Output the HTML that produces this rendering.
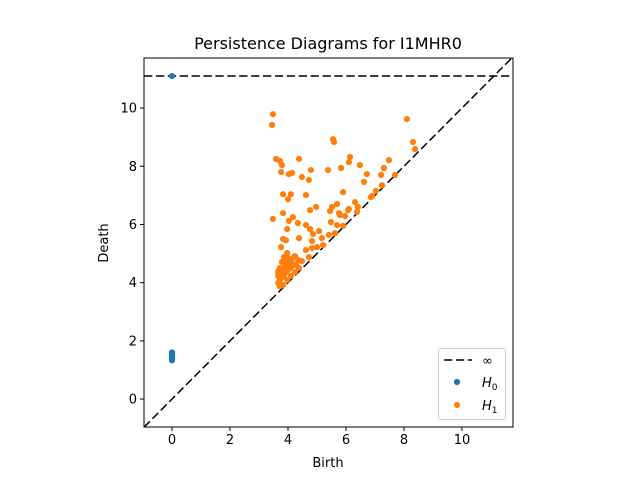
<!DOCTYPE html>
<html><head><meta charset="utf-8"><style>
body{margin:0;background:#fff;font-family:"Liberation Sans","DejaVu Sans",sans-serif;}
svg text{font-family:"DejaVu Sans","Liberation Sans",sans-serif;}
</style></head><body>
<svg id="chart" width="640" height="480" viewBox="0 0 640 480">
<rect width="640" height="480" fill="#fff"/>
<text x="328" y="49" font-size="16" text-anchor="middle">Persistence Diagrams for I1MHR0</text>
<g id="plot"></g>
<text x="328" y="467" font-size="13" text-anchor="middle">Birth</text>
<text x="108" y="243" font-size="13" text-anchor="middle" transform="rotate(-90 108 243)">Death</text>
<g>
<rect x="438.5" y="348.5" width="67" height="71" rx="3" fill="#fff" fill-opacity="0.8" stroke="#ccc"/>
<line x1="444" y1="360" x2="472" y2="360" stroke="#000" stroke-width="1.5" stroke-dasharray="8.3,3.6"/>
<text x="482" y="365" font-size="13">∞</text>
<circle cx="457" cy="382" r="3.1" fill="#1f77b4"/>
<text x="482" y="387" font-size="13" font-style="italic">H<tspan font-size="9" dy="3" font-style="normal">0</tspan></text>
<circle cx="457" cy="405" r="3.1" fill="#ff7f0e"/>
<text x="482" y="410" font-size="13" font-style="italic">H<tspan font-size="9" dy="3" font-style="normal">1</tspan></text>
</g>
</svg>
<script>
const xTicks=[0,2,4,6,8,10];
const yTicks=[0,2,4,6,8,10];
const infDeath=11.1;
const h0Birth=[0,0,0,0,0,0,0,0,0];
const h0Death=[1.33,1.38,1.42,1.46,1.5,1.53,1.56,1.6,11.1];
const h1Birth=[3.48,3.45,8.10,5.55,5.59,8.31,8.38,3.59,3.72,3.79,3.76,4.03,4.14,4.38,4.79,4.48,4.72,5.38,5.83,6.14,6.10,6.48,6.72,6.62,7.48,7.31,7.21,7.69,7.24,7.03,6.86,6.90,5.90,3.83,4.10,4.00,4.62,4.97,4.76,5.69,5.52,5.45,5.76,5.97,6.10,6.31,6.41,6.38,5.79,6.07,3.83,3.48,4.17,4.03,4.34,4.62,5.48,4.76,5.07,5.69,5.90,5.62,5.41,3.97,4.86,4.83,5.17,3.83,3.93,4.38,3.76,5.21,5.00,4.62,4.83,3.97,4.24,4.48,4.72,3.72,3.66,3.66,3.72,3.79,3.86,3.93,4.00,4.07,4.14,3.76,3.83,3.90,3.69,3.79,3.93,4.03,4.17,4.28,4.34,4.00,3.86,4.10,3.97,3.83,3.72,4.24,4.38,3.66,4.10,4.21];
const h1Death=[9.79,9.42,9.62,8.93,8.83,8.83,8.59,8.25,8.18,8.04,7.80,7.73,7.77,8.25,7.87,7.63,7.53,7.87,7.94,8.32,8.14,8.04,7.73,7.46,8.21,7.94,7.70,7.70,7.35,7.15,6.94,6.98,7.11,7.04,7.04,6.87,7.01,6.60,6.49,6.70,6.60,6.46,6.39,6.29,6.53,6.77,6.60,6.43,6.32,6.49,6.39,6.19,6.25,6.12,6.05,5.98,6.08,5.84,5.77,5.98,5.95,5.70,5.64,5.84,5.67,5.43,5.53,5.50,5.46,5.53,5.22,5.29,5.22,5.12,5.19,5.02,4.91,4.74,4.88,4.50,4.36,3.99,4.09,4.19,4.26,4.36,4.43,4.50,4.57,4.26,4.43,4.57,4.43,4.71,4.71,4.71,4.64,4.60,4.78,4.85,4.88,4.23,4.09,3.92,3.88,4.36,4.50,4.23,4.78,4.88];
const L=144,R=513,T=58,B=427;
const xMin=-0.966,xMax=11.76,yMin=-0.96,yMax=11.72;
function sx(v){return L+(v-xMin)/(xMax-xMin)*(R-L);}
function sy(v){return B-(v-yMin)/(yMax-yMin)*(B-T);}
const NS="http://www.w3.org/2000/svg";
const g=document.getElementById('plot');
function el(t,a,p){const e=document.createElementNS(NS,t);for(const k in a)e.setAttribute(k,a[k]);(p||g).appendChild(e);return e;}
const diag=el('line',{x1:sx(xMin),y1:sy(xMin),x2:sx(Math.min(xMax,yMax)),y2:sy(Math.min(xMax,yMax)),stroke:'#000','stroke-width':1.5,'stroke-dasharray':'8.3,3.6'});


const inf=el('line',{x1:L,y1:sy(infDeath),x2:R,y2:sy(infDeath),stroke:'#000','stroke-width':1.5,'stroke-dasharray':'8.3,3.6'});


for(let i=0;i<h0Birth.length;i++){
 const c=el('circle',{cx:sx(h0Birth[i]),cy:sy(h0Death[i]),r:3.1,fill:'#1f77b4'});
 
 
}
for(let i=0;i<h1Birth.length;i++){
 const c=el('circle',{cx:sx(h1Birth[i]),cy:sy(h1Death[i]),r:3.1,fill:'#ff7f0e'});
 
 
}
const frame=el('rect',{x:L,y:T,width:R-L,height:B-T,fill:'none',stroke:'#000','stroke-width':1});


xTicks.forEach(v=>{
 const x=sx(v);
 const tk=el('line',{x1:x,y1:B,x2:x,y2:B+4,stroke:'#000'});
 
 
 const t=el('text',{x:x,y:B+17,'font-size':13,'text-anchor':'middle'});
 t.textContent=v;
 
 
});
yTicks.forEach(v=>{
 const y=sy(v);
 const tk=el('line',{x1:L-4,y1:y,x2:L,y2:y,stroke:'#000'});
 
 
 const t=el('text',{x:L-7,y:y+4.5,'font-size':13,'text-anchor':'end'});
 t.textContent=v;
 
 
});
</script>
</body></html>
